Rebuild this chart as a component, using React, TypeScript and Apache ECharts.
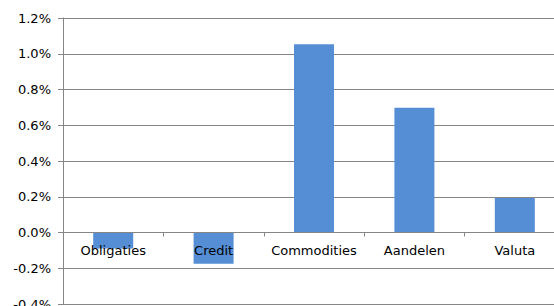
import React, { useEffect, useRef } from "react";
import * as echarts from "echarts";

const categories = ["Obligaties", "Credit", "Commodities", "Aandelen", "Valuta"];
const values = [-0.09, -0.175, 1.053, 0.698, 0.193];
const yMin = -0.4;
const yMax = 1.2;
const yStep = 0.2;

export default function App() {
  const ref = useRef<HTMLDivElement>(null);
  useEffect(() => {
    if (!ref.current) return;
    const chart = echarts.init(ref.current, null, { renderer: "svg" });
    const font = "DejaVu Sans";
    const gridHeight = 286;
    const zeroOffset = -(gridHeight * (0 - yMin)) / (yMax - yMin);
    chart.setOption({
      animation: false,
      backgroundColor: "#ffffff",
      grid: { left: 63, top: 18, width: 502, height: gridHeight, outerBoundsMode: "none", containLabel: false },
      xAxis: {
        type: "category",
        data: categories,
        z: 5,
        position: "bottom",
        offset: zeroOffset,
        axisLine: { onZero: false, lineStyle: { color: "#868686", width: 1 } },
        axisTick: { show: true, length: 4, lineStyle: { color: "#868686" } },
        axisLabel: { color: "#000", fontFamily: font, fontSize: 13, margin: 11, interval: 0, hideOverlap: false },
        splitLine: { show: false },
      },
      yAxis: {
        type: "value",
        min: yMin,
        max: yMax,
        interval: yStep,
        axisLine: { show: true, lineStyle: { color: "#868686", width: 1 } },
        axisTick: { show: true, length: 5, lineStyle: { color: "#868686" } },
        axisLabel: {
          color: "#000",
          fontFamily: font,
          fontSize: 13,
          margin: 12,
          formatter: (v: number) => v.toFixed(1) + "%",
        },
        splitLine: { show: true, lineStyle: { color: "#868686", width: 1 } },
      },
      series: [
        {
          type: "bar",
          data: values,
          barWidth: 40,
          itemStyle: { color: "#558ED5" },
          z: 2,
        },
      ],
    });
    return () => chart.dispose();
  }, []);
  return (
    <div
      ref={ref}
      style={{ position: "fixed", left: 0, top: 0, width: 554, height: 306 }}
    />
  );
}
